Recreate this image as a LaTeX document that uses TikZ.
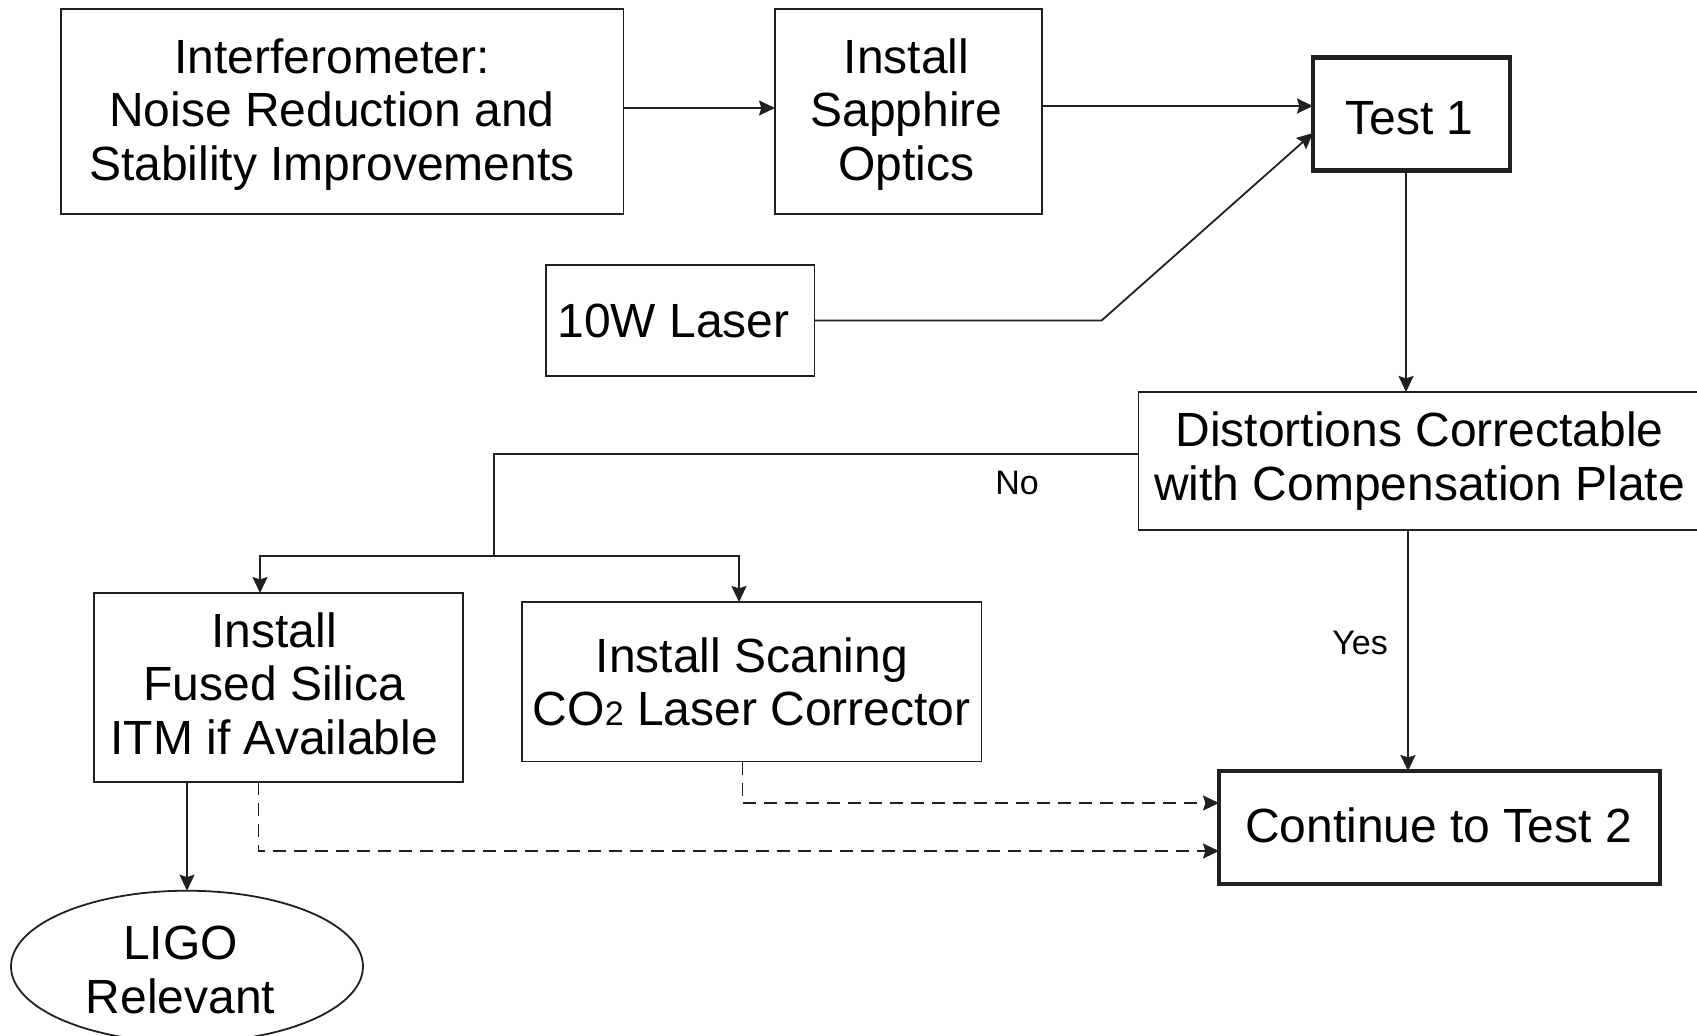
\documentclass[tikz,border=0pt]{standalone}
\usepackage{fontspec}
\setmainfont{Liberation Sans}
\usetikzlibrary{arrows.meta,shapes.geometric}
\definecolor{ink}{HTML}{231F20}
\newcommand\mvtxt[3]{\hspace*{#1}\raisebox{#2}[\height][\depth]{\begin{tabular}{@{}c@{}}#3\end{tabular}}\hspace*{-#1}}
\begin{document}
\begin{tikzpicture}[x=0.5pt,y=-0.5pt,
  every node/.style={inner sep=0pt,outer sep=0pt},
  txt/.style={font=\fontsize{24}{26.8}\selectfont,align=center,text=black},
  lbl/.style={font=\fontsize{17}{20}\selectfont,text=black},
  box/.style={draw=ink,line width=0.9pt,rectangle,txt},
  thickbox/.style={draw=ink,line width=2.3pt,rectangle,txt},
  conn/.style={draw=ink,line width=0.9pt},
  arr/.style={conn,-{Stealth[length=8pt,width=7.5pt,inset=1.2pt]}},
  dsh/.style={dash pattern=on 6.5pt off 4pt}]
\useasboundingbox (0,0) rectangle (1697,1035);
\fill[white] (0,0) rectangle (1697,1035);

\node[box,minimum width=281.4pt,minimum height=102.8pt] (interf) at (342,111.5)
  {\mvtxt{-5pt}{-2.2pt}{Interferometer:\\Noise Reduction and\\Stability Improvements}};
\node[box,minimum width=133.6pt,minimum height=102.8pt] (sapph) at (908.6,111.5)
  {\mvtxt{-1pt}{-2.2pt}{Install\\Sapphire\\Optics}};
\node[thickbox,minimum width=98.5pt,minimum height=56.5pt] (test1) at (1411.5,114)
  {\mvtxt{-1pt}{-4.9pt}{Test 1}};
\node[box,minimum width=134.4pt,minimum height=55.35pt] (laser) at (680,320.4)
  {\mvtxt{-3.25pt}{-3.2pt}{10W Laser}};
\node[box,minimum width=281pt,minimum height=69pt] (dist) at (1419.5,461)
  {Distortions Correctable\\with Compensation Plate};
\node[box,minimum width=184.4pt,minimum height=94.45pt] (fused) at (278.6,687.5)
  {\mvtxt{-2.2pt}{-1.35pt}{Install\\Fused Silica\\ITM if Available}};
\node[box,minimum width=229.75pt,minimum height=79.75pt] (co2) at (751.75,681.75)
  {Install Scaning\\CO{\fontsize{17}{17}\selectfont 2} Laser Corrector};
\node[thickbox,minimum width=220.5pt,minimum height=56.5pt] (cont) at (1439.5,827.5)
  {\mvtxt{-0.5pt}{-2.25pt}{Continue to Test 2}};
\node[draw=ink,line width=0.9pt,ellipse,txt,minimum width=176pt,minimum height=65.5pt] (ligo) at (187,966.5)
  {\mvtxt{-3.25pt}{-4.6pt}{LIGO\\Relevant}};

\node[lbl] (no) at (1017,483) {No};
\node[lbl] (yes) at (1360,643) {Yes};

\coordinate (lb) at (1101.7,320.4);
\coordinate (nb) at (494,454);
\coordinate (nj) at (494,556);
\coordinate (nl) at (260,556);
\coordinate (nr) at (739,556);
\coordinate (dc) at (742.5,803);
\coordinate (df) at (258.5,851);

\draw[arr] (interf.east |- {(0,108)}) -- (sapph.west |- {(0,108)});
\draw[arr] (sapph.east |- {(0,106)}) -- (test1.west |- {(0,106)});
\draw[arr] (laser.east |- lb) -- (lb) -- (test1.west |- {(0,133)});
\draw[arr] (test1.south -| {(1406,0)}) -- (dist.north -| {(1406,0)});
\draw[conn] (dist.west |- nb) -- (nb) -- (nj);
\draw[arr] (nj) -- (nl) -- (fused.north -| nl);
\draw[arr] (nj) -- (nr) -- (co2.north -| nr);
\draw[arr] (dist.south -| {(1408,0)}) -- (cont.north -| {(1408,0)});
\draw[arr,dsh] (co2.south -| dc) -- (dc) -- (cont.west |- dc);
\draw[arr,dsh] (fused.south -| df) -- (df) -- (cont.west |- df);
\draw[arr] (fused.south -| ligo.north) -- (ligo.north);
\end{tikzpicture}
\end{document}
